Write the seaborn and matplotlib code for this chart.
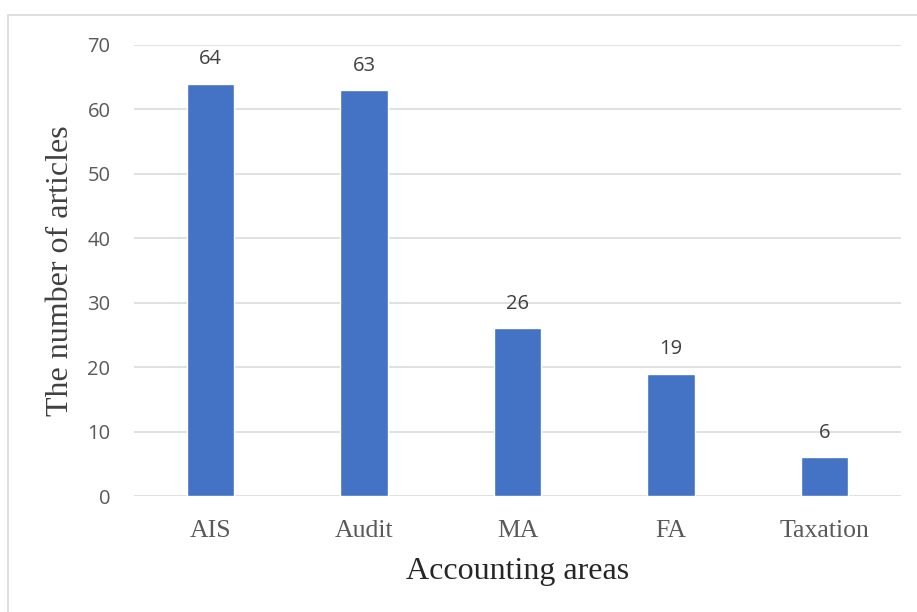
import pandas as pd
import seaborn as sns
import matplotlib.pyplot as plt
from matplotlib.patches import Rectangle

# Articles per accounting area
areas = ['AIS', 'Audit', 'MA', 'FA', 'Taxation']
articles = [64, 63, 26, 19, 6]

df = pd.DataFrame({'area': areas, 'articles': articles})

sns.set_style('white')

fig = plt.figure(figsize=(9.17, 6.12), dpi=100)
ax = fig.add_axes([134 / 917, 1 - 496 / 612, 767 / 917, 451 / 612])

sns.barplot(data=df, x='area', y='articles', color='#4472C4', saturation=1,
            width=0.31, ax=ax)

ax.set_ylim(0, 70)
ax.set_yticks(range(0, 71, 10))
ax.grid(axis='y', color='#D9D9D9', linewidth=1.1)
ax.set_axisbelow(True)
for side in ['top', 'right', 'left', 'bottom']:
    ax.spines[side].set_visible(False)

ax.tick_params(axis='y', length=0, pad=17, labelsize=14.5, labelcolor='#595959')
ax.tick_params(axis='x', length=0, pad=17, labelsize=18.5, labelcolor='#595959')
for lbl in ax.get_yticklabels():
    lbl.set_family('Open Sans')
for lbl in ax.get_xticklabels():
    lbl.set_family('Liberation Serif')

# value labels above bars
for i, v in enumerate(articles):
    ax.annotate(str(v), (i, v), xytext=(0, 17.5), textcoords='offset points',
                ha='center', va='center', fontsize=14.5, color='#404040',
                family='Open Sans')

ax.set_xlabel('Accounting areas', family='Liberation Serif', fontsize=23,
              color='#262626')
ax.set_ylabel('The number of articles', family='Liberation Serif', fontsize=23,
              color='#404040')
ax.xaxis.set_label_coords(0.5, (496 - 572) / 451)
ax.xaxis.label.set_va('center')
ax.yaxis.set_label_coords((61 - 134) / 767, 0.5)
ax.yaxis.label.set_va('center')

# chart frame
fig.patches.append(Rectangle((8 / 917, -0.1), 1.2, 1 - 15 / 612 + 0.1,
                             transform=fig.transFigure, fill=False,
                             edgecolor='#D9D9D9', linewidth=1.2))

fig.savefig('out.png', dpi=100)
